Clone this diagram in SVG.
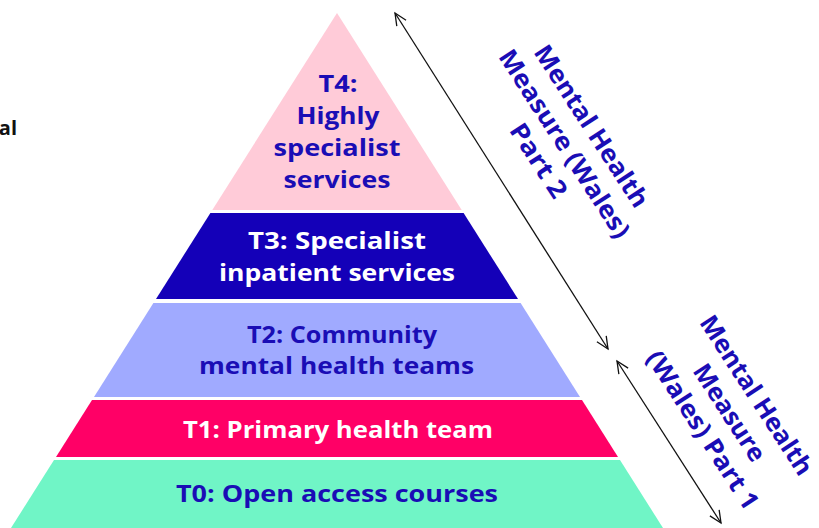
<svg xmlns="http://www.w3.org/2000/svg" width="819" height="528" viewBox="0 0 819 528">
<style>
.t{font-family:"Open Sans","Liberation Sans",sans-serif;font-weight:700;font-size:24px;text-anchor:middle}
.b{fill:#1a0db5}
.w{fill:#ffffff}
.r{font-family:"Open Sans","Liberation Sans",sans-serif;font-weight:700;font-size:25px;text-anchor:middle;fill:#1a0db5}
.arr{stroke:#111;stroke-width:1.3;fill:none;marker-start:url(#ah);marker-end:url(#ah)}
</style>
<defs>
<marker id="ah" markerUnits="userSpaceOnUse" markerWidth="30" markerHeight="30" viewBox="-15 -15 30 30" refX="0" refY="0" orient="auto-start-reverse" overflow="visible">
<path d="M-12,-5.5 L0,0 L-12,5.5" fill="none" stroke="#111" stroke-width="1.3"/>
</marker>
</defs>
<rect width="819" height="528" fill="#ffffff"/>
<text x="17" y="135" style="font-family:'Open Sans','Liberation Sans',sans-serif;font-weight:700;font-size:20px;text-anchor:end;fill:#111">al</text>
<g id="t4">
<polygon points="337,13 461.7,210 212.3,210" fill="#ffcbd8"/>
<text class="t b" x="338" y="92" textLength="39" lengthAdjust="spacingAndGlyphs">T4:</text>
<text class="t b" x="338" y="124" textLength="83" lengthAdjust="spacingAndGlyphs">Highly</text>
<text class="t b" x="337" y="156" textLength="127" lengthAdjust="spacingAndGlyphs">specialist</text>
<text class="t b" x="337" y="188" textLength="107" lengthAdjust="spacingAndGlyphs">services</text>
</g>
<g id="t3">
<polygon points="210.4,213 463.6,213 518,299 156,299" fill="#1400b8"/>
<text class="t w" x="337" y="249" textLength="178" lengthAdjust="spacingAndGlyphs">T3: Specialist</text>
<text class="t w" x="337" y="281" textLength="236" lengthAdjust="spacingAndGlyphs">inpatient services</text>
</g>
<g id="t2">
<polygon points="153.4,303 520.6,303 580,397 94,397" fill="#a0aaff"/>
<text class="t b" x="342" y="343" textLength="190" lengthAdjust="spacingAndGlyphs">T2: Community</text>
<text class="t b" x="336.5" y="374" textLength="275" lengthAdjust="spacingAndGlyphs">mental health teams</text>
</g>
<g id="t1">
<polygon points="92,400 582,400 618,457 56,457" fill="#ff0066"/>
<text class="t w" x="338" y="438" textLength="310" lengthAdjust="spacingAndGlyphs">T1: Primary health team</text>
</g>
<g id="t0">
<polygon points="54,460 620,460 663,528 11,528" fill="#70f5c6"/>
<text class="t b" x="337" y="502" textLength="322" lengthAdjust="spacingAndGlyphs">T0: Open access courses</text>
</g>
<g id="connectors">
<line class="arr" x1="395" y1="13" x2="608" y2="349"/>
<line class="arr" x1="617" y1="361" x2="721" y2="523"/>
</g>
<g id="label-part2" transform="translate(564,144) rotate(57)">
<text class="r" x="0" y="-24" textLength="188" lengthAdjust="spacingAndGlyphs">Mental Health</text>
<text class="r" x="0" y="8" textLength="219" lengthAdjust="spacingAndGlyphs">Measure (Wales)</text>
<text class="r" x="0" y="39" textLength="84" lengthAdjust="spacingAndGlyphs">Part 2</text>
</g>
<g id="label-part1" transform="translate(729,413) rotate(57)">
<text class="r" x="0" y="-24" textLength="185" lengthAdjust="spacingAndGlyphs">Mental Health</text>
<text class="r" x="0" y="8" textLength="111" lengthAdjust="spacingAndGlyphs">Measure</text>
<text class="r" x="0" y="40" textLength="184" lengthAdjust="spacingAndGlyphs">(Wales) Part 1</text>
</g>
</svg>
